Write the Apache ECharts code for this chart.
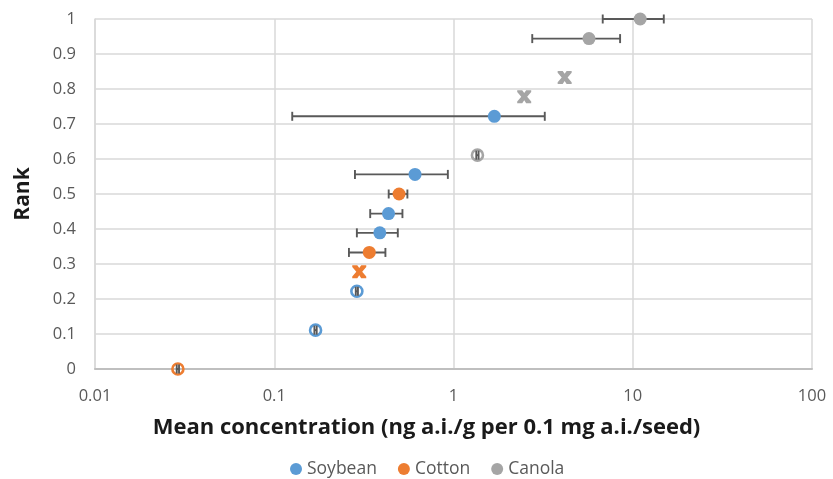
<!DOCTYPE html>
<html>
<head>
<meta charset="utf-8">
<script src="https://cdn.jsdelivr.net/npm/echarts@6/dist/echarts.min.js"></script>
<style>
  html, body { margin: 0; padding: 0; background: #fff; }
  #main { width: 833px; height: 479px; }
</style>
</head>
<body>
<div id="main"></div>
<script>
// [mean concentration, rank, low, high]
var soybeanDots = [[1.69, 0.722, 0.126, 3.23], [0.61, 0.556, 0.282, 0.93], [0.434, 0.444, 0.343, 0.519], [0.388, 0.389, 0.289, 0.489]];
var soybeanRings = [[0.289, 0.222, 0.285, 0.293], [0.17, 0.111, 0.1675, 0.1725]];
var cottonDots = [[0.497, 0.5, 0.435, 0.553], [0.339, 0.333, 0.261, 0.417]];
var cottonCross = [[0.298, 0.278]];
var cottonRings = [[0.029, 0, 0.02857, 0.02943]];
var canolaDots = [[11.0, 1, 6.8, 14.9], [5.7, 0.944, 2.75, 8.5]];
var canolaCross = [[4.17, 0.833], [2.48, 0.778]];
var canolaRings = [[1.36, 0.611, 1.34, 1.38]];

var crops = ['Soybean', 'Cotton', 'Canola'];
var colors = ['#5b9bd5', '#ed7d31', '#a5a5a5'];
var xTicks = [0.01, 0.1, 1, 10, 100];

var FONT = '"Open Sans", Lato, sans-serif';
var crossPath = 'path://M0,0 L3.6,0 L5,2.2 L6.4,0 L10,0 L10,1.3 L7.1,5 L10,8.7 L10,10 L6.4,10 L5,7.8 L3.6,10 L0,10 L0,8.7 L2.9,5 L0,1.3 Z';

var myChart = echarts.init(document.getElementById('main'));

function errSeries(data, z) {
	return {
		type: 'custom',
		name: 'err',
		z: z,
		silent: true,
		data: data.map(function (d) { return [d[0], d[1], d[2], d[3]]; }),
		encode: { x: [0, 2, 3], y: 1 },
		renderItem: function (params, api) {
			var y = api.coord([api.value(0), api.value(1)])[1];
			var lo = api.coord([api.value(2), api.value(1)])[0];
			var hi = api.coord([api.value(3), api.value(1)])[0];
			var h = 4.5;
			var st = { stroke: '#595959', lineWidth: 1.9 };
			return {
				type: 'group',
				children: [
					{ type: 'line', shape: { x1: lo, y1: y, x2: hi, y2: y }, style: st },
					{ type: 'line', shape: { x1: lo, y1: y - h, x2: lo, y2: y + h }, style: st },
					{ type: 'line', shape: { x1: hi, y1: y - h, x2: hi, y2: y + h }, style: st }
				]
			};
		}
	};
}

function dotSeries(name, color, data) {
	return {
		type: 'scatter', name: name, z: 3,
		symbol: 'circle', symbolSize: 13,
		itemStyle: { color: color, opacity: 1 },
		data: data.map(function (d) { return [d[0], d[1]]; })
	};
}
function ringSeries(name, color, data) {
	return {
		type: 'scatter', name: name, z: 3,
		symbol: 'circle', symbolSize: 11,
		itemStyle: { color: 'rgba(255,255,255,0)', borderColor: color, borderWidth: 2.6, opacity: 1 },
		data: data.map(function (d) { return [d[0], d[1]]; })
	};
}
function crossSeries(name, color, data) {
	return {
		type: 'scatter', name: name, z: 3,
		symbol: crossPath, symbolSize: [14, 13],
		itemStyle: { color: color, opacity: 1 },
		data: data.map(function (d) { return [d[0], d[1]]; })
	};
}

var series = [
	dotSeries(crops[0], colors[0], soybeanDots),
	dotSeries(crops[1], colors[1], cottonDots),
	dotSeries(crops[2], colors[2], canolaDots),
	ringSeries(crops[0], colors[0], soybeanRings),
	ringSeries(crops[1], colors[1], cottonRings),
	ringSeries(crops[2], colors[2], canolaRings),
	crossSeries(crops[1], colors[1], cottonCross),
	crossSeries(crops[2], colors[2], canolaCross),
	errSeries(soybeanDots.concat(cottonDots, canolaDots), 2),
	errSeries(soybeanRings.concat(cottonRings, canolaRings), 4)
];

var option = {
	animation: false,
	backgroundColor: '#fff',
	textStyle: { fontFamily: FONT },
	grid: { left: 95, right: 21, top: 19, bottom: 110 },
	legend: {
		data: crops.map(function (c) { return { name: c, icon: 'circle' }; }),
		top: 455,
		left: 285,
		itemWidth: 12, itemHeight: 12, itemGap: 21,
		textStyle: { color: '#595959', fontSize: 17.5, fontFamily: FONT },
		selectedMode: false
	},
	xAxis: {
		type: 'log', logBase: 10, min: xTicks[0], max: xTicks[xTicks.length - 1],
		name: 'Mean concentration (ng a.i./g per 0.1 mg a.i./seed)',
		nameLocation: 'middle', nameGap: 48,
		nameTextStyle: { color: '#1a1a1a', fontSize: 22, fontWeight: 'bold', fontFamily: FONT, padding: [0, 54, 0, 0] },
		axisLine: { show: true, lineStyle: { color: '#bfbfbf', width: 2 } },
		axisTick: { show: false },
		axisLabel: {
			color: '#595959', fontSize: 16.5, margin: 19,
			formatter: function (v) { return String(v); }
		},
		splitLine: { show: true, lineStyle: { color: '#d9d9d9', width: 1.5 } },
		minorTick: { show: false }, minorSplitLine: { show: false }
	},
	yAxis: {
		type: 'value', min: 0, max: 1, interval: 0.1,
		name: 'Rank', nameLocation: 'middle', nameGap: 61, nameRotate: 90,
		nameTextStyle: { color: '#1a1a1a', fontSize: 21, fontWeight: 'bold', fontFamily: FONT },
		axisLine: { show: true, lineStyle: { color: '#d9d9d9', width: 1.5 } },
		axisTick: { show: false },
		axisLabel: {
			color: '#595959', fontSize: 16.5, margin: 19,
			formatter: function (v) { return String(Math.round(v * 10) / 10); }
		},
		splitLine: { show: true, lineStyle: { color: '#d9d9d9', width: 1.5 } }
	},
	series: series
};

myChart.setOption(option);
</script>
</body>
</html>
